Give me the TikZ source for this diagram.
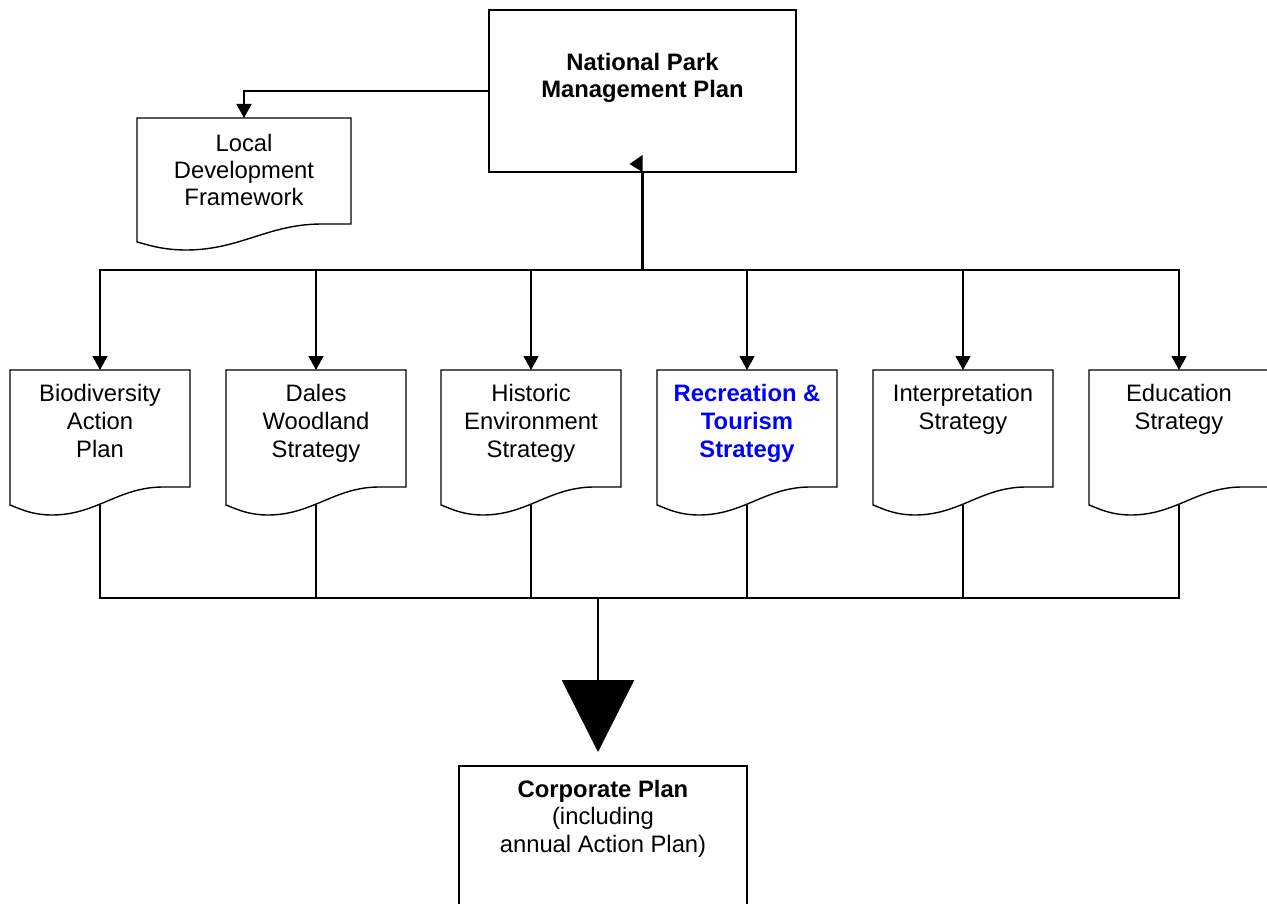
\documentclass[tikz,border=0pt]{standalone}
\usepackage{fontspec}
\setmainfont{Liberation Sans}
\usetikzlibrary{calc,arrows.meta}
\definecolor{recblue}{RGB}{0,0,255}
\newcommand\docshape[7]{% #1 name, #2 width, #3 right height, #4 flat start x, #5 min x, #6 min height, #7 left height
  \draw[shapeline] (#1.north west) -- (#1.north east) -- ($(#1.north west)+(#2,#3)$) -- ($(#1.north west)+(#4,#3)$)
    .. controls ($(#1.north west)+({#4-0.4*(#4-#5)},#3)$) and ($(#1.north west)+({#5+0.4*(#4-#5)},#6)$) .. ($(#1.north west)+(#5,#6)$)
    .. controls ($(#1.north west)+({0.5*#5},#6)$) and ($(#1.north west)+({0.2*#5},{#7+0.3*(#6-#7)})$) .. ($(#1.north west)+(0,#7)$) -- cycle;}
\tikzset{
  shapeline/.style={line width=1.4pt, line join=miter},
  conn/.style={line width=1.4pt},
  thickconn/.style={line width=2.6pt},
  tip/.style={-{Triangle[length=14pt,width=15pt]}},
  docnode/.style={anchor=north, inner sep=0pt, outer sep=0pt, font=\fontsize{23.8}{28}\selectfont},
  boxnode/.style={anchor=north, inner sep=0pt, outer sep=0pt, draw, line width=1.4pt, font=\fontsize{23.8}{27.5}\selectfont},
}
\begin{document}
\begin{tikzpicture}[x=1pt,y=-1pt]
\useasboundingbox (0,0) rectangle (1267,904);
\clip (0,0) rectangle (1267,904);
\fill[white] (0,0) rectangle (1267,904);

% top box
\node[boxnode] (npmp) at (642.5,10) {\parbox[c][162pt][t]{307pt}{\centering\vspace*{43pt}\bfseries National Park\\Management Plan}};

% local development framework
\node[docnode] (ldf) at (244,118) {\parbox[c][132pt][t]{214pt}{\centering\fontsize{23.8}{27}\selectfont\vspace*{16pt}Local\\Development\\Framework}};
\docshape{ldf}{214}{106}{185}{49}{132}{124}

% strategy documents
\node[docnode] (bio) at (100,370) {\parbox[c][138pt][t]{180pt}{\centering\vspace*{14pt}Biodiversity\\Action\\Plan}};
\node[docnode] (dales) at (316,370) {\parbox[c][138pt][t]{180pt}{\centering\vspace*{14pt}Dales\\Woodland\\Strategy}};
\node[docnode] (hist) at (531,370) {\parbox[c][138pt][t]{180pt}{\centering\vspace*{14pt}Historic\\Environment\\Strategy}};
\node[docnode] (rec) at (747,370) {\parbox[c][138pt][t]{180pt}{\centering\vspace*{14pt}\bfseries\color{recblue}Recreation \&\\Tourism\\Strategy}};
\node[docnode] (interp) at (963,370) {\parbox[c][138pt][t]{180pt}{\centering\vspace*{14pt}Interpretation\\Strategy}};
\node[docnode] (edu) at (1179,370) {\parbox[c][138pt][t]{180pt}{\centering\vspace*{14pt}Education\\Strategy}};
\foreach \n in {bio,dales,hist,rec,interp,edu}{\docshape{\n}{180}{117}{153}{42}{145}{135}}

% corporate plan
\node[boxnode] (corp) at (603,766) {\parbox[c][150pt][t]{288pt}{\centering\vspace*{14pt}\textbf{Corporate Plan}\\(including\\annual Action Plan)}};

% junctions
\coordinate (jt) at (642.5,270);
\coordinate (jb) at (598,598);

% top connectors
\draw[conn,tip] (npmp.west) -| (ldf.north);
\draw[thickconn] (jt) -- (npmp.south);
\fill (npmp.south) -- ++(0,-17) -- ++(-13,9) -- cycle;
\foreach \n in {bio,dales,hist,rec,interp,edu}{\draw[conn,tip] (jt) -| (\n.north);}
\draw[line width=2.2pt] (dales.north |- jt) -- (interp.north |- jt);

% bottom connectors
\foreach \n in {bio,dales,hist,rec,interp,edu}{\draw[conn] ($(\n.south)+(0,-3)$) |- (jb);}
\draw[line width=2.4pt] (dales.south |- jb) -- (interp.south |- jb);
\draw[thickconn,-{Triangle[length=72pt,width=72pt]},shorten >=14pt] (jb) -- (corp.north -| jb);
\end{tikzpicture}
\end{document}
